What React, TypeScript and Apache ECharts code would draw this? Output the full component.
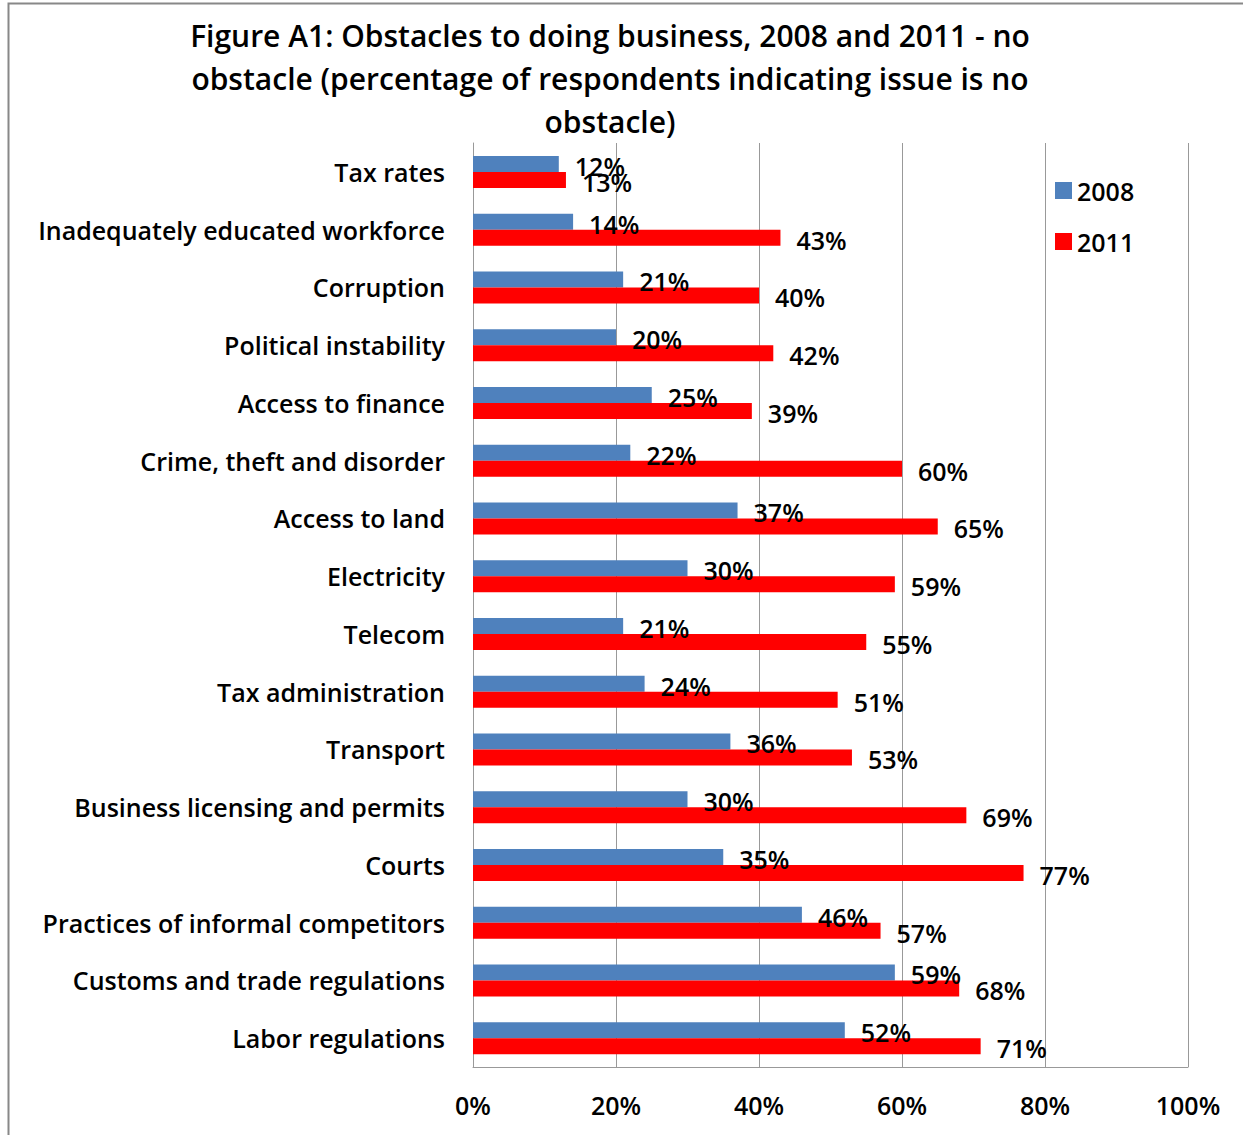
import React, { useEffect, useRef } from "react";
import * as echarts from "echarts";

const categories = [
  "Tax rates",
  "Inadequately educated workforce",
  "Corruption",
  "Political instability",
  "Access to finance",
  "Crime, theft and disorder",
  "Access to land",
  "Electricity",
  "Telecom",
  "Tax administration",
  "Transport",
  "Business licensing and permits",
  "Courts",
  "Practices of informal competitors",
  "Customs and trade regulations",
  "Labor regulations",
];
const values2008 = [12, 14, 21, 20, 25, 22, 37, 30, 21, 24, 36, 30, 35, 46, 59, 52];
const values2011 = [13, 43, 40, 42, 39, 60, 65, 59, 55, 51, 53, 69, 77, 57, 68, 71];
const xTicks = [0, 20, 40, 60, 80, 100];
const titleText =
  "Figure A1: Obstacles to doing business, 2008 and 2011 - no\nobstacle (percentage of respondents indicating issue is no\nobstacle)";

const FONT = "'Open Sans', Lato, sans-serif";

export default function App() {
  const ref = useRef<HTMLDivElement>(null);
  useEffect(() => {
    if (!ref.current) return;
    const chart = echarts.init(ref.current, undefined, { renderer: "svg" });
    const label = {
      show: true,
      position: "right",
      distance: 16,
      offset: [0, 2],
      formatter: "{c}%",
      color: "#000",
      fontSize: 25,
      fontWeight: 600,
      fontFamily: FONT,
    };
    chart.setOption({
      animation: false,
      backgroundColor: "#fff",
      textStyle: { fontFamily: FONT },
      title: {
        text: titleText,
        left: 605,
        top: 9,
        textAlign: "center",
        textStyle: {
          fontSize: 30,
          fontWeight: 600,
          color: "#000",
          lineHeight: 43,
          fontFamily: FONT,
        },
      },
      legend: {
        orient: "vertical",
        left: 1050,
        top: 173,
        itemWidth: 17,
        itemHeight: 17,
        itemGap: 26,
        icon: "rect",
        textStyle: {
          fontSize: 25,
          fontWeight: 600,
          color: "#000",
          fontFamily: FONT,
        },
        data: ["2008", "2011"],
      },
      grid: { left: 473, right: 55, top: 143, bottom: 68 },
      xAxis: {
        type: "value",
        min: 0,
        max: 100,
        interval: 20,
        axisLine: { show: true, lineStyle: { color: "#999", width: 1 } },
        axisTick: { show: false },
        splitLine: { show: true, lineStyle: { color: "#999", width: 1 } },
        axisLabel: {
          formatter: (v: number) => (xTicks.includes(v) ? v + "%" : ""),
          fontSize: 25,
          fontWeight: 600,
          color: "#000",
          margin: 25,
          fontFamily: FONT,
        },
      },
      yAxis: {
        type: "category",
        data: categories,
        inverse: true,
        axisLine: { show: true, lineStyle: { color: "#999", width: 1 } },
        axisTick: { show: false },
        axisLabel: {
          fontSize: 25,
          fontWeight: 600,
          color: "#000",
          margin: 28,
          fontFamily: FONT,
        },
      },
      graphic: [
        {
          type: "rect",
          shape: { x: 8.5, y: 3.5, width: 1260, height: 1160 },
          style: { fill: "none", stroke: "#888", lineWidth: 2 },
          silent: true,
          z: 100,
        },
      ],
      series: [
        {
          name: "2008",
          type: "bar",
          data: values2008,
          barWidth: 16,
          barGap: "0%",
          itemStyle: { color: "#4F81BD" },
          label,
        },
        {
          name: "2011",
          type: "bar",
          data: values2011,
          barWidth: 16,
          barGap: "0%",
          itemStyle: { color: "#FF0000" },
          label,
        },
      ],
    });
    return () => chart.dispose();
  }, []);
  return (
    <div
      ref={ref}
      style={{ position: "absolute", left: 0, top: 0, width: 1243, height: 1135 }}
    />
  );
}
